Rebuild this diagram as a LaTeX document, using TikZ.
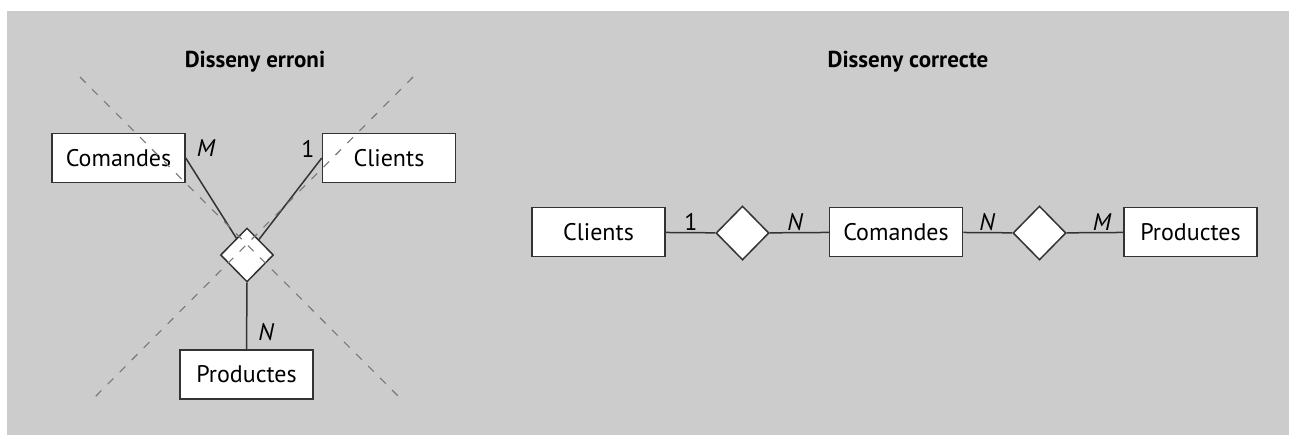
\documentclass[tikz,border=0pt]{standalone}
\usepackage{fontspec}
\setmainfont{PT Sans}
\usetikzlibrary{shapes.geometric}
\definecolor{bg}{HTML}{CCCCCC}
\definecolor{ink}{HTML}{333333}
\definecolor{cross}{HTML}{777777}
\tikzset{
  ent/.style={draw=ink, fill=white, line width=0.75pt, minimum width=66.5pt,
              minimum height=24.5pt, inner sep=0pt, font=\fontsize{12}{14}\selectfont},
  rel/.style={diamond, draw=ink, fill=white, line width=0.75pt, minimum width=26.5pt,
              minimum height=27pt, inner sep=0pt},
  ln/.style={ink, line width=0.75pt},
  crs/.style={cross, line width=0.55pt, dash pattern=on 4pt off 4.5pt},
  card/.style={inner sep=0pt, font=\fontsize{12}{14}\selectfont},
  ttl/.style={font=\fontsize{11.5}{14}\selectfont\bfseries},
}

\begin{document}
\begin{tikzpicture}[x=0.5pt, y=-0.5pt]
    \useasboundingbox (0,0) rectangle (1289,435);
    \fill[bg] (7,11) rectangle (1289,435);

    % disseny erroni
    \node[ttl] (t1) at (255,62) {Disseny erroni};
    \node[ent] (com1) at (118.5,158) {Comandes};
    \node[ent] (cli1) at (389,158) {Clients};
    \node[rel] (r1) at (247,255) {};
    \node[ent] (pro1) at (246.5,374.5) {Productes};
    \draw[ln] (com1.east) -- (r1);
    \draw[ln] (cli1.west) -- (r1);
    \draw[ln] (r1.south) -- (pro1.north);
    \node[card] (m1) at (206,148) {\itshape M};
    \node[card] (u1) at (308,149) {1};
    \node[card] (n1) at (266,332) {\itshape N};
    \coordinate (a1) at (80,77);
    \coordinate (a2) at (402,400);
    \coordinate (b1) at (413,77);
    \coordinate (b2) at (92,400);
    \draw[crs] (a1) -- (a2);
    \draw[crs] (b1) -- (b2);

    % disseny correcte
    \node[ttl] (t2) at (908,62) {Disseny correcte};
    \node[ent] (cli2) at (598.5,232) {Clients};
    \node[rel] (r2) at (742.5,233) {};
    \node[ent] (com2) at (896,232) {Comandes};
    \node[rel] (r3) at (1039.5,233) {};
    \node[ent] (pro2) at (1190.5,232) {Productes};
    \draw[ln] (cli2) -- (r2);
    \draw[ln] (r2) -- (com2);
    \draw[ln] (com2) -- (r3);
    \draw[ln] (r3) -- (pro2);
    \node[card] (u2) at (691,222) {1};
    \node[card] (n2) at (795,222) {\itshape N};
    \node[card] (n3) at (987,222) {\itshape N};
    \node[card] (m2) at (1102,222) {\itshape M};
\end{tikzpicture}
\end{document}
